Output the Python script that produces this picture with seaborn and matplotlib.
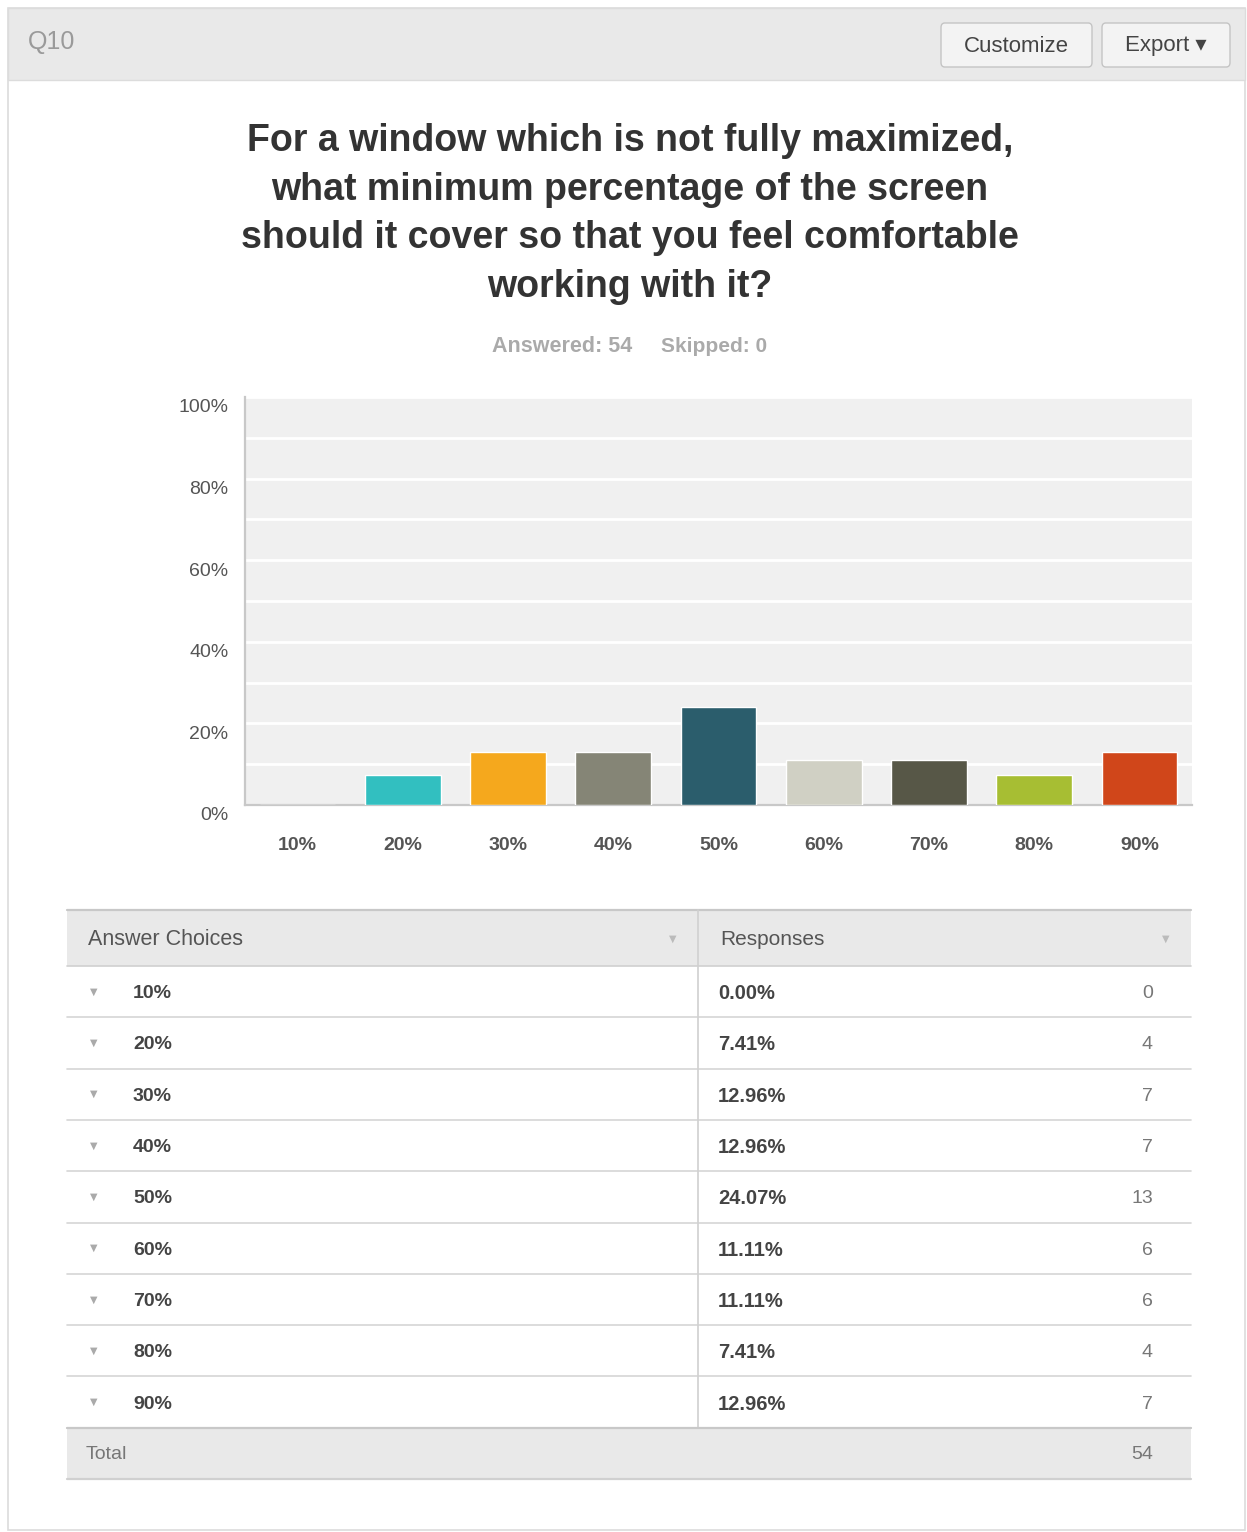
import matplotlib
matplotlib.use("Agg")
import matplotlib.pyplot as plt
import matplotlib.transforms as mtransforms
from matplotlib.patches import Rectangle, FancyBboxPatch
import seaborn as sns

# survey data (Q10)
choices = ["10%", "20%", "30%", "40%", "50%", "60%", "70%", "80%", "90%"]
percents = [0.00, 7.41, 12.96, 12.96, 24.07, 11.11, 11.11, 7.41, 12.96]
counts = [0, 4, 7, 7, 13, 6, 6, 4, 7]
bar_colors = ["#7fb3c4", "#32bfc0", "#f5a81d", "#858576", "#2b5d6c",
              "#d0d0c4", "#575747", "#a7be33", "#d0461a"]
answered, skipped = 54, 0
question = ("For a window which is not fully maximized,\n"
            "what minimum percentage of the screen\n"
            "should it cover so that you feel comfortable\n"
            "working with it?")

sns.set_style("white")
plt.rcParams["font.family"] = ["Liberation Sans", "DejaVu Sans"]

W, H = 1247, 1532
fig = plt.figure(figsize=(W / 100, H / 100), dpi=100)


def fx(x):
    return x / W


def fy(y):
    return 1 - y / H


def box(x0, y0, x1, y1, **kw):
    fig.add_artist(Rectangle((fx(x0), fy(y1)), fx(x1) - fx(x0), fy(y0) - fy(y1),
                             transform=fig.transFigure, **kw))


def hline(x0, x1, y, color="#d6d6d6", lw=1.2):
    fig.add_artist(plt.Line2D([fx(x0), fx(x1)], [fy(y), fy(y)], color=color, lw=lw,
                              transform=fig.transFigure))


# panel + header band
box(8, 8, 1245, 1530, facecolor="white", edgecolor="#dcdcdc", lw=1.2, zorder=0)
box(8, 8, 1245, 80, facecolor="#e9e9e9", edgecolor="#dcdcdc", lw=1.0, zorder=0)
fig.text(fx(28), fy(42), "Q10", fontsize=18, color="#9a9a9a", va="center")
for x0, x1, label in [(941, 1092, "Customize"), (1102, 1230, "Export \u25be")]:
    fig.add_artist(FancyBboxPatch((fx(x0), fy(67)), fx(x1) - fx(x0), fy(23) - fy(67),
                                  boxstyle="round,pad=0,rounding_size=0.003",
                                  transform=fig.transFigure, facecolor="#f3f3f3",
                                  edgecolor="#c4c4c4", lw=1.0))
    fig.text(fx((x0 + x1) / 2), fy(46), label, fontsize=16, color="#444444",
             ha="center", va="center")

# question title
fig.text(fx(630), fy(214), question, fontsize=27, fontweight="bold", color="#333333",
         ha="center", va="center", linespacing=1.45)
fig.text(fx(562), fy(346), f"Answered: {answered}", fontsize=15.5, fontweight="bold",
         color="#aaaaaa", ha="center", va="center")
fig.text(fx(714), fy(346), f"Skipped: {skipped}", fontsize=15, fontweight="bold",
         color="#aaaaaa", ha="center", va="center")

# bar chart
ax = fig.add_axes([fx(245), fy(805), fx(1192) - fx(245), fy(397) - fy(805)])
sns.barplot(x=choices, y=percents, hue=choices, palette=bar_colors, legend=False,
            width=0.72, saturation=1, ax=ax, zorder=3)
ax.set_facecolor("#f0f0f0")
ax.set_ylim(0, 100)
ax.set_xlim(-0.5, len(choices) - 0.5)
ax.set_yticks(range(0, 101, 20))
ax.set_yticks(range(10, 100, 10), minor=True)
ax.set_yticklabels([f"{v}%" for v in range(0, 101, 20)])
ax.grid(True, axis="y", which="both", color="white", lw=2, zorder=1)
ax.set_axisbelow(True)
ax.tick_params(axis="y", which="both", length=0, pad=12, labelsize=14, labelcolor="#555555")
ax.tick_params(axis="x", length=0, pad=23, labelsize=14, labelcolor="#555555")
for lab in ax.get_xticklabels():
    lab.set_fontweight("bold")
for lab in ax.get_yticklabels():
    lab.set_transform(lab.get_transform() +
                      mtransforms.ScaledTranslation(0, -0.09, fig.dpi_scale_trans))
for side in ["top", "right"]:
    ax.spines[side].set_visible(False)
for side in ["left", "bottom"]:
    ax.spines[side].set_color("#c8c8c8")
    ax.spines[side].set_linewidth(1.6)
ax.set_xlabel("")
ax.set_ylabel("")

# table
tx0, tx1, tmid = 67, 1191, 698
row_h = 51.3
top = 910
head_bot = 966
box(tx0, top, tx1, head_bot, facecolor="#e9e9e9", edgecolor="none")
hline(tx0, tx1, top, color="#c8c8c8", lw=1.6)
hline(tx0, tx1, head_bot, color="#d0d0d0", lw=1.2)
fig.text(fx(88), fy(940), "Answer Choices", fontsize=15.5, color="#555555", va="center")
fig.text(fx(720), fy(940), "Responses", fontsize=15, color="#555555", va="center")
for x in (673, 1166):
    fig.text(fx(x), fy(939), "\u25bc", fontsize=7, color="#bbbbbb", ha="center",
             va="center", family="DejaVu Sans")

for i, (c, p, n) in enumerate(zip(choices, percents, counts)):
    yc = head_bot + row_h * (i + 0.5)
    fig.text(fx(94), fy(yc), "\u25bc", fontsize=7, color="#aaaaaa", ha="center",
             va="center", family="DejaVu Sans")
    fig.text(fx(133), fy(yc + 2), c, fontsize=14, fontweight="bold", color="#444444",
             va="center")
    fig.text(fx(718), fy(yc + 2), f"{p:.2f}%", fontsize=14.5, fontweight="bold",
             color="#444444", va="center")
    fig.text(fx(1153), fy(yc + 2), str(n), fontsize=14, color="#777777", ha="right",
             va="center")
    hline(tx0, tx1, head_bot + row_h * (i + 1))

table_bot = head_bot + row_h * len(choices)
fig.add_artist(plt.Line2D([fx(tmid), fx(tmid)], [fy(top), fy(table_bot)], color="#d0d0d0",
                          lw=1.2, transform=fig.transFigure))
box(tx0, table_bot, tx1, table_bot + 51, facecolor="#e9e9e9", edgecolor="none")
hline(tx0, tx1, table_bot, color="#c8c8c8", lw=1.6)
hline(tx0, tx1, table_bot + 51, color="#d0d0d0", lw=1.6)
fig.text(fx(86), fy(table_bot + 27), "Total", fontsize=14, color="#777777",
         va="center")
fig.text(fx(1153), fy(table_bot + 27), str(sum(counts)), fontsize=14, color="#777777",
         ha="right", va="center")

fig.savefig("out.png", dpi=100)
